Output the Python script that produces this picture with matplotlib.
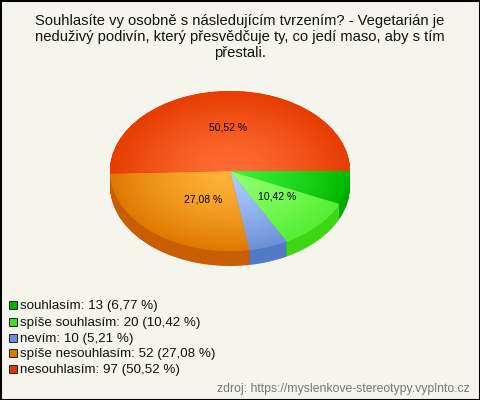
import numpy as np
import matplotlib
matplotlib.use("Agg")
import matplotlib.pyplot as plt
from matplotlib.patches import Rectangle
from matplotlib.colors import to_rgb

# data
categorias = ["souhlasím", "spíše souhlasím", "nevím", "spíše nesouhlasím", "nesouhlasím"]
cantidades = [13, 20, 10, 52, 97]
porcentajes = [6.77, 10.42, 5.21, 27.08, 50.52]
titulo = ("Souhlasíte vy osobně s následujícím tvrzením? - Vegetarián je\n"
          "neduživý podivín, který přesvědčuje ty, co jedí maso, aby s tím\n"
          "přestali.")
fuente = "zdroj: https://myslenkove-stereotypy.vyplnto.cz"

# colors
borde = ["#00b800", "#55ee33", "#6a90d8", "#e07800", "#e63c00"]
centro = ["#38f038", "#90ff70", "#acccff", "#ffb438", "#ff6c34"]
lateral = ["#00a800", "#3fd615", "#507ac4", "#c85e00", "#b83000"]
leyenda = ["#00b000", "#44dd22", "#6a90d8", "#e07800", "#e03800"]
fondo = "#f5f5ed"

# geometry in pixels
W, H = 480, 400
cx, cy = 230, 171
rx, ry = 120, 80
grosor = 15
pos_etiquetas = {1: (277, 197), 3: (203, 200), 4: (228, 128)}

plt.rcParams["font.family"] = ["Liberation Sans", "DejaVu Sans"]

fig = plt.figure(figsize=(W / 100, H / 100), dpi=100, facecolor=fondo)
ax = fig.add_axes([0, 0, 1, 1])
ax.set_facecolor(fondo)

def limites():
    ax.set_aspect("auto")
    ax.set_xlim(-cx / rx, (W - cx) / rx)
    ax.set_ylim((cy - H) / ry, cy / ry)
    ax.axis("off")

# side of the pie: same pie repeated downwards
for k in np.arange(grosor, 0, -0.5):
    ax.pie(cantidades, colors=lateral, startangle=0, counterclock=False,
           center=(0, -k / ry), radius=1, wedgeprops={"linewidth": 0})

# top of the pie
cuñas, _ = ax.pie(cantidades, colors=borde, startangle=0, counterclock=False,
                  center=(0, 0), radius=1, wedgeprops={"linewidth": 0})
limites()

# radial shading, clipped to each slice
gx, gy = np.meshgrid(np.linspace(-1, 1, 300), np.linspace(-1, 1, 300))
r = np.clip(np.hypot(gx, gy), 0, 1)[..., None] ** 1.4
for cuña, c1, c2 in zip(cuñas, centro, borde):
    img = np.array(to_rgb(c1)) * (1 - r) + np.array(to_rgb(c2)) * r
    im = ax.imshow(img, extent=(-1, 1, -1, 1), origin="lower", aspect="auto",
                   interpolation="bilinear", zorder=cuña.get_zorder() + 1)
    im.set_clip_path(cuña)
limites()

# percentage labels on the slices
for i, (px, py) in pos_etiquetas.items():
    fig.text(px / W, 1 - py / H, f"{porcentajes[i]:.2f} %".replace(".", ","),
             fontsize=7.5, color="black", ha="center", va="center")

# title
fig.text(240 / W, 1 - 14 / H, titulo, fontsize=10.6, color="#111111", ha="center",
         va="top", linespacing=1.2)

# legend
ys = [305, 322, 338, 353, 369]
for y, nombre, n, p, col in zip(ys, categorias, cantidades, porcentajes, leyenda):
    fig.add_artist(Rectangle((9 / W, 1 - (y + 4) / H), 8 / W, 8 / H, facecolor=col,
                             edgecolor="#222222", linewidth=0.7,
                             transform=fig.transFigure))
    txt = f"{nombre}: {n} ({p:.2f} %)".replace(".", ",")
    fig.text(20 / W, 1 - (y + 1) / H, txt, fontsize=9.65, color="#111111", ha="left",
             va="center")

fig.text(470 / W, 1 - 389 / H, fuente, fontsize=8.85, color="#777777", ha="right",
         va="center")

# outer frame
fig.add_artist(Rectangle((0, 0), 1, 1, fill=False, edgecolor="black", linewidth=2.2,
                         transform=fig.transFigure))

fig.savefig("out.png", dpi=100, facecolor=fondo)
